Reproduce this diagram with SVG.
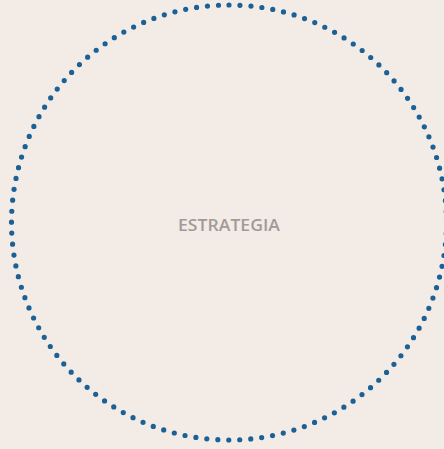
<svg xmlns="http://www.w3.org/2000/svg" width="444" height="449" viewBox="0 0 444 449">
<style>
.ring{fill:none;stroke:#1b6196;stroke-width:5.2;stroke-linecap:round;stroke-dasharray:0 11.02}
.lbl{font-family:"Open Sans","Liberation Sans",sans-serif;font-weight:600;font-size:15.5px;fill:#a09b98;text-anchor:middle}
</style>
<rect width="444" height="449" fill="#f2ebe6"/>
<g id="estrategia">
<circle class="ring" cx="229" cy="222.5" r="217.5" transform="rotate(-90 229 222.5)"/>
<text class="lbl" x="229" y="231" textLength="102" lengthAdjust="spacingAndGlyphs">ESTRATEGIA</text>
</g>
</svg>
